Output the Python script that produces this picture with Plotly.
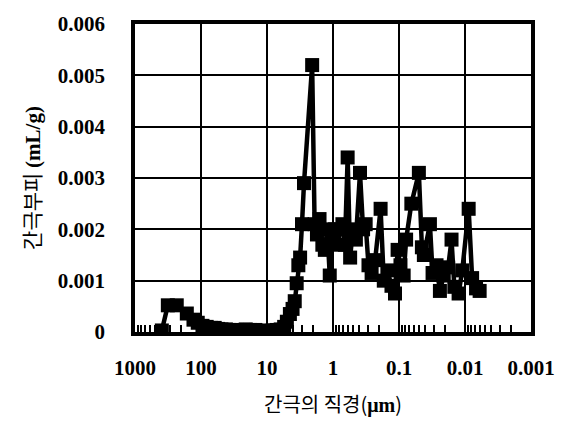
import plotly.graph_objects as go

# pore diameter (um) and pore volume (mL/g)
diameter = [392, 318, 233, 164, 130, 112, 95, 82, 70, 62, 55, 49, 42, 37, 32, 28, 24, 21, 18, 15,
            13, 11, 9.5, 8.2, 7.1, 6.2, 5.5, 5.0, 4.5, 4.1, 3.8, 3.55, 3.35, 3.15, 2.95, 2.75,
            2.07, 1.9, 1.75, 1.6, 1.45, 1.33, 1.22, 1.12, 1.02, 0.93, 0.85, 0.78, 0.72, 0.66,
            0.6, 0.55, 0.5, 0.45, 0.39, 0.35, 0.32, 0.29, 0.26, 0.23, 0.19, 0.17, 0.15, 0.13,
            0.115, 0.105, 0.095, 0.085, 0.078, 0.065, 0.05, 0.045, 0.042, 0.034, 0.031, 0.027,
            0.024, 0.021, 0.018, 0.016, 0.0145, 0.0125, 0.011, 0.0088, 0.0078, 0.0068, 0.006]
volume = [0.00003, 0.00052, 0.00052, 0.00036, 0.00024, 0.00018, 0.00012, 0.0001, 0.00008, 0.00008,
          0.00006, 0.00005, 0.00005, 0.00004, 0.00003, 0.00004, 0.00003, 0.00005, 0.00004, 0.00004,
          0.00002, 0.00003, 0.00002, 0.00003, 0.00004, 0.00005, 0.0001, 0.0002, 0.00035, 0.00045,
          0.0006, 0.00095, 0.0013, 0.00145, 0.0021, 0.0029,
          0.0052, 0.0021, 0.0019, 0.0022, 0.0017, 0.0016, 0.0020, 0.0011, 0.0019, 0.0020, 0.0017,
          0.0020, 0.0021, 0.0017,
          0.0034, 0.00145, 0.0020, 0.0018, 0.0031, 0.0020, 0.0021, 0.0013, 0.00115, 0.0014,
          0.0024, 0.0010, 0.0012, 0.0009,
          0.00075, 0.0016, 0.0013, 0.0011, 0.0018, 0.0025, 0.0031, 0.00165, 0.0015, 0.0021,
          0.00115, 0.0013,
          0.0008, 0.0011, 0.00126, 0.0018, 0.00088, 0.00075, 0.0012, 0.0024, 0.00105, 0.00085,
          0.0008]

y_ticks = [0, 0.001, 0.002, 0.003, 0.004, 0.005, 0.006]
y_labels = ["0", "0.001", "0.002", "0.003", "0.004", "0.005", "0.006"]

serif = "Liberation Serif"

fig = go.Figure()
fig.add_trace(go.Scatter(
    x=diameter, y=volume, mode="lines+markers",
    line=dict(color="black", width=4.5),
    marker=dict(symbol="square", size=14, color="black"),
    showlegend=False,
))

fig.update_layout(
    width=567, height=434,
    margin=dict(l=135, r=34, t=23, b=102),
    paper_bgcolor="white", plot_bgcolor="white",
    font=dict(family=serif, color="black", size=20),
)

fig.update_xaxes(
    type="log", range=[3, -3],
    tickmode="linear", tick0=0, dtick=1, exponentformat="none",
    tickfont=dict(family=serif, size=21, color="black", weight="bold"),
    ticks="", ticklabelstandoff=14,
    showgrid=True, gridcolor="black", gridwidth=1.8,
    showline=True, linecolor="black", linewidth=3.5, mirror=True,
    minor=dict(ticks="inside", ticklen=7, tickcolor="black", tickwidth=2, showgrid=False, dtick="D1"),
    title=dict(text="간극의 직경(<b><span style='font-family:Liberation Serif'>μm</span></b>)",
               font=dict(family="Noto Sans CJK KR", size=20, color="black"), standoff=20),
    zeroline=False,
)
fig.update_yaxes(
    range=[0, 0.006],
    tickvals=y_ticks, ticktext=y_labels,
    tickfont=dict(family=serif, size=21, color="black", weight="bold"),
    ticks="", ticklabelstandoff=22,
    showgrid=True, gridcolor="black", gridwidth=1.8,
    showline=True, linecolor="black", linewidth=3.5, mirror=True,
    title=dict(text="간극부피 <b><span style='font-family:Liberation Serif'>(mL/g)</span></b>",
               font=dict(family="Noto Sans CJK KR", size=21, color="black"), standoff=12),
    zeroline=False,
)

fig.write_html("out.html", config={"displayModeBar": False},
               post_script="document.body.style.margin='0';")
